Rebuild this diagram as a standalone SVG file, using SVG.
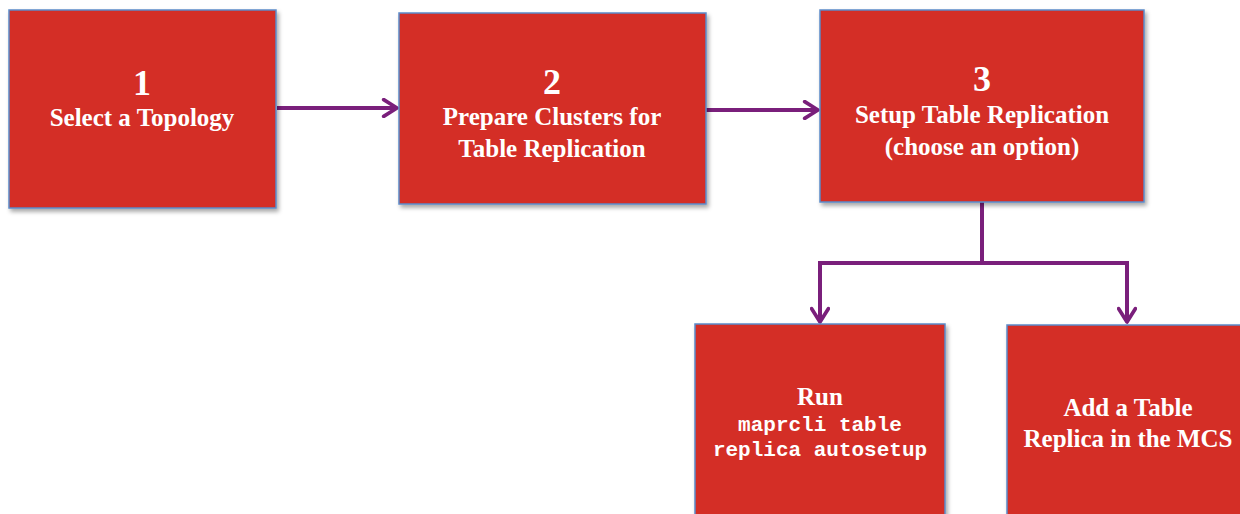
<svg xmlns="http://www.w3.org/2000/svg" width="1240" height="514" viewBox="0 0 1240 514">
<defs>
<filter id="sh" x="-5%" y="-5%" width="115%" height="115%">
<feDropShadow dx="2" dy="3" stdDeviation="2" flood-color="#000" flood-opacity="0.35"/>
</filter>
<marker id="arr" viewBox="0 0 12 12" refX="10" refY="6" markerWidth="5" markerHeight="5" orient="auto" markerUnits="strokeWidth">
<path d="M2,1 L10,6 L2,11" fill="none" stroke="#7a1f7b" stroke-width="2.2" stroke-linecap="round" stroke-linejoin="round"/>
</marker>
<style>
.box{fill:#d42e27;stroke:#5b8bc9;stroke-width:1.5;filter:url(#sh)}
.t{font-family:"Liberation Serif","Times New Roman",serif;font-weight:bold;fill:#fff;text-anchor:middle}
.num{font-size:36px}
.lbl{font-size:25px}
.mono{font-family:"Liberation Mono","Courier New",monospace;font-weight:bold;fill:#fff;text-anchor:middle;font-size:21px}
.c{fill:none;stroke:#7a1f7b;stroke-width:4}
</style>
</defs>
<rect width="1240" height="514" fill="#fff"/>
<g id="connectors">
<line class="c" x1="277" y1="108" x2="397" y2="108" marker-end="url(#arr)"/>
<line class="c" x1="706" y1="110" x2="818" y2="110" marker-end="url(#arr)"/>
<polyline class="c" points="982,202 982,263 820,263 820,322" marker-end="url(#arr)"/>
<polyline class="c" points="982,263 1127,263 1127,322" marker-end="url(#arr)"/>
</g>
<g id="node1">
<rect class="box" x="9" y="10" width="267" height="198"/>
<text class="t num" x="142" y="95">1</text>
<text class="t lbl" x="142" y="126">Select a Topology</text>
</g>
<g id="node2">
<rect class="box" x="399" y="13" width="307" height="191"/>
<text class="t num" x="552" y="94">2</text>
<text class="t lbl" x="552" y="125">Prepare Clusters for</text>
<text class="t lbl" x="552" y="157">Table Replication</text>
</g>
<g id="node3">
<rect class="box" x="820" y="10" width="324" height="192"/>
<text class="t num" x="982" y="91">3</text>
<text class="t lbl" x="982" y="123">Setup Table Replication</text>
<text class="t lbl" x="982" y="155">(choose an option)</text>
</g>
<g id="node4">
<rect class="box" x="695" y="324" width="250" height="200"/>
<text class="t lbl" x="820" y="405">Run</text>
<text class="mono" x="820" y="431">maprcli table</text>
<text class="mono" x="820" y="456">replica autosetup</text>
</g>
<g id="node5">
<rect class="box" x="1007" y="325" width="245" height="200"/>
<text class="t lbl" x="1128" y="416">Add a Table</text>
<text class="t lbl" x="1128" y="447">Replica in the MCS</text>
</g>
</svg>
